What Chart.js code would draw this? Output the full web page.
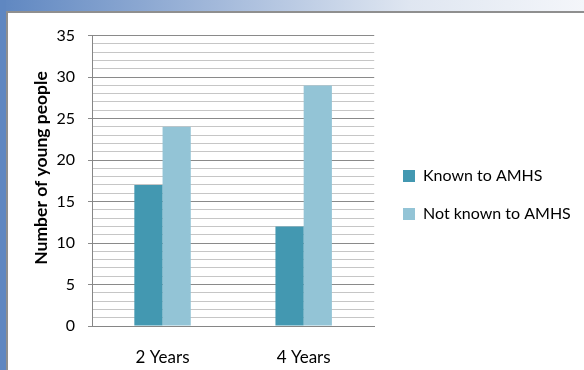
<!DOCTYPE html>
<html>
<head>
<meta charset="utf-8">
<script src="https://cdn.jsdelivr.net/npm/chart.js@4.4.1/dist/chart.umd.min.js"></script>
<style>
    html, body { margin: 0; padding: 0; }
    body { width: 584px; height: 370px; position: relative; overflow: hidden; background: #ffffff; }
    .topBand { position: absolute; left: 0; top: 0; width: 584px; height: 12px; background: linear-gradient(to right, #5f87c1, #9fb6d9 35%, #dfe6f1 70%, #f4f6fa); }
    .leftBand { position: absolute; left: 0; top: 0; width: 6px; height: 370px; background: #5f87c1; }
    .panel { position: absolute; left: 6px; top: 11px; width: 580px; height: 362px; border-left: 2px solid #8f8f8f; border-top: 2px solid #8f8f8f; background: #fff; }
    #chartBox { position: absolute; left: 8px; top: 13px; width: 576px; height: 357px; }
</style>
</head>
<body>
<div class="topBand"></div>
<div class="leftBand"></div>
<div class="panel"></div>
<div id="chartBox"><canvas id="amhsChart"></canvas></div>
<script>
const categories = ['2 Years', '4 Years'];
const knownToAmhs = [17, 12];
const notKnownToAmhs = [24, 29];
const yTickLabels = [0, 5, 10, 15, 20, 25, 30, 35];
const yTitle = 'Number of young people';

const FONT = 'Lato, "Open Sans", sans-serif';

// Legend position fine-tuning (canvas coords): square left edge, top of first row
const LEGEND_X = 395;
const LEGEND_Y = 155;

const legendNudge = {
    id: 'legendNudge',
    afterLayout(chart) {
        const lg = chart.legend;
        const pad = lg.options.labels.padding;
        const dx = LEGEND_X - (lg.left + pad);
        lg.left += dx; lg.right += dx;
        const colH = lg.columnSizes && lg.columnSizes[0] ? lg.columnSizes[0].height : 0;
        const curY = ((lg.top + pad) + (lg.bottom - colH)) / 2;
        const dy = LEGEND_Y - curY;
        lg.top += dy; lg.bottom += dy;
    }
};

// Y axis title sits a bit above the plot's middle in the original, so draw it ourselves
const yTitlePlugin = {
    id: 'yTitlePlugin',
    afterDraw(chart) {
        const ctx = chart.ctx;
        ctx.save();
        ctx.translate(33.5, 155);
        ctx.rotate(-Math.PI / 2);
        ctx.font = `bold 17.5px ${FONT}`;
        ctx.fillStyle = '#000';
        ctx.textAlign = 'center';
        ctx.textBaseline = 'middle';
        ctx.fillText(yTitle, 0, 0);
        ctx.restore();
    }
};

new Chart(document.getElementById('amhsChart'), {
    type: 'bar',
    data: {
        labels: categories,
        datasets: [{
            label: 'Known to AMHS',
            data: knownToAmhs,
            backgroundColor: '#4398b1',
            borderWidth: 0
        }, {
            label: 'Not known to AMHS',
            data: notKnownToAmhs,
            backgroundColor: '#93c4d6',
            borderWidth: 0
        }]
    },
    options: {
        responsive: true,
        maintainAspectRatio: false,
        animation: false,
        layout: { padding: { top: 21, right: 10, bottom: 0, left: 0 } },
        datasets: { bar: { categoryPercentage: 0.4, barPercentage: 1.0 } },
        scales: {
            x: {
                grid: { display: false, drawTicks: false, tickLength: 0 },
                border: { display: true, color: '#868686', width: 1 },
                ticks: { color: '#000', padding: 21, font: { family: FONT, size: 17 } },
                afterFit: scale => { scale.height = 44; }
            },
            y: {
                min: 0,
                max: 35,
                border: { display: true, color: '#868686', width: 1 },
                grid: {
                    color: ctx => (ctx.tick && yTickLabels.includes(ctx.tick.value)) ? '#8a8a8a' : '#c6c6c6',
                    tickColor: ctx => (ctx.tick && yTickLabels.includes(ctx.tick.value)) ? '#8a8a8a' : 'rgba(0,0,0,0)',
                    tickLength: 4,
                    lineWidth: 1
                },
                ticks: {
                    stepSize: 1,
                    maxTicksLimit: 40,
                    autoSkip: false,
                    padding: 13,
                    color: '#000',
                    font: { family: FONT, size: 16 },
                    callback: v => yTickLabels.includes(v) ? String(v) : ''
                },
                title: { display: false },
                afterFit: scale => { scale.width = 84; }
            }
        },
        plugins: {
            legend: {
                position: 'right',
                maxWidth: 230,
                labels: {
                    boxWidth: 12,
                    boxHeight: 12,
                    padding: 22,
                    color: '#000',
                    font: { family: FONT, size: 16 }
                }
            },
            tooltip: { enabled: false }
        }
    },
    plugins: [legendNudge, yTitlePlugin]
});
</script>
</body>
</html>
